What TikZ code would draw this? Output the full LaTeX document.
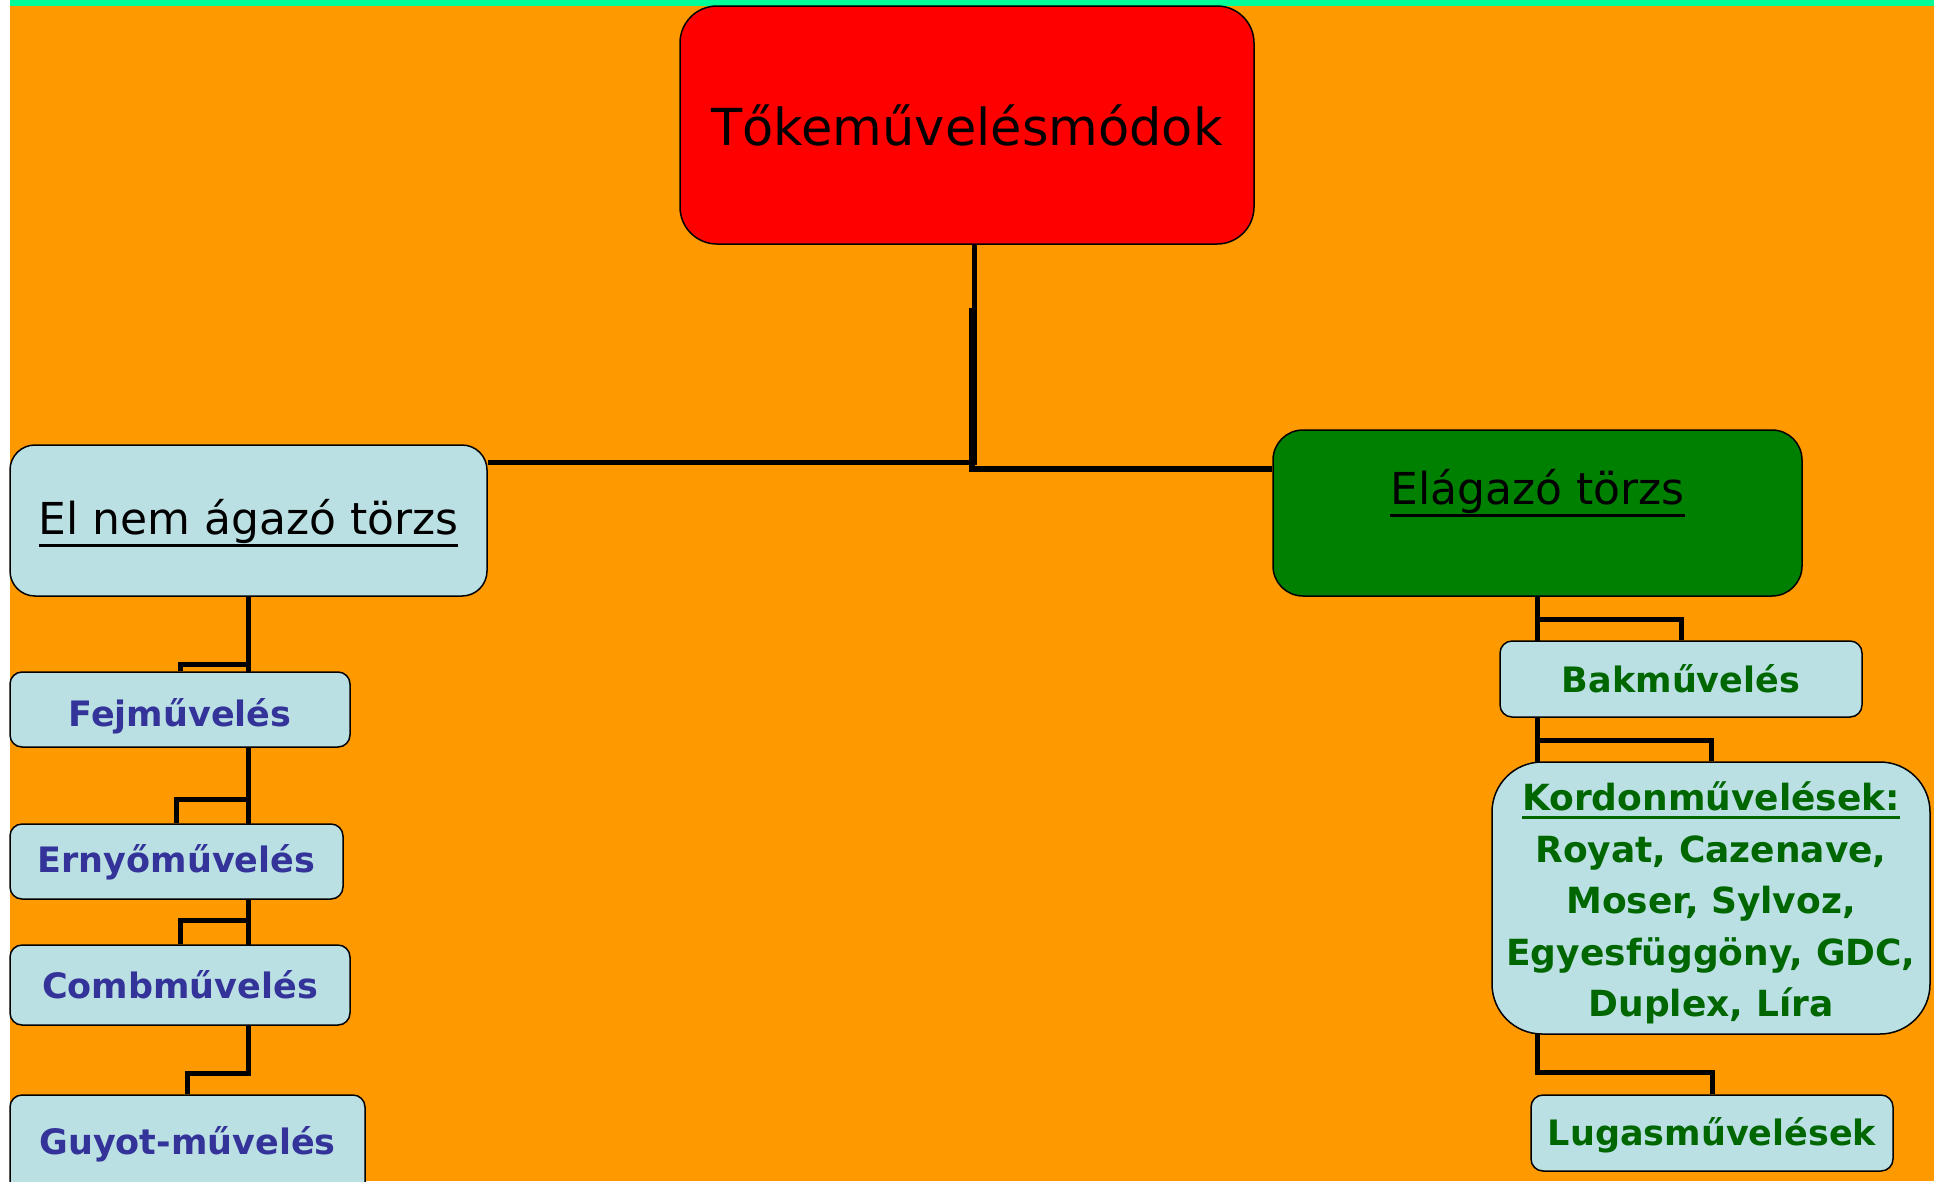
\documentclass[tikz,border=0pt]{standalone}
\usepackage{fontspec}
\setmainfont{DejaVu Sans}
\newcommand\myul[2]{\setbox0\hbox{#2}\rlap{\rule[-#1]{\wd0}{3pt}}\box0}
\definecolor{bgorange}{RGB}{255,153,0}
\definecolor{topgreen}{RGB}{0,255,153}
\definecolor{rootred}{RGB}{255,0,0}
\definecolor{boxgreen}{RGB}{0,128,0}
\definecolor{lightbox}{RGB}{187,224,227}
\definecolor{txtblue}{RGB}{51,51,153}
\definecolor{txtgreen}{RGB}{0,102,0}
\pgfdeclarelayer{back}
\pgfdeclarelayer{lines}
\pgfsetlayers{back,lines,main}
\begin{document}
\begin{tikzpicture}[x=1pt,y=-1pt,
  box/.style={draw=black,line width=1.5pt,rectangle,inner sep=0pt,align=center},
  leafl/.style={box,fill=lightbox,rounded corners=12pt,text=txtblue,font=\fontsize{35}{42}\selectfont\bfseries},
  leafr/.style={box,fill=lightbox,rounded corners=12pt,text=txtgreen,font=\fontsize{35}{42}\selectfont\bfseries},
  conn/.style={draw=black,line width=5pt}]
\useasboundingbox (0,0) rectangle (1934,1181);
\begin{pgfonlayer}{back}
\fill[white] (0,0) rectangle (1934,1181);
\fill[bgorange] (10,0) rectangle (1934,1181);
\fill[topgreen] (10,0) rectangle (1934,6);
\end{pgfonlayer}

\node[box,fill=rootred,rounded corners=37pt,minimum width=574pt,minimum height=238pt,
  font=\fontsize{51}{60}\selectfont] (root) at (967,125) {Tőkeművelésmódok};

\node[box,fill=lightbox,rounded corners=25pt,minimum width=477pt,minimum height=151pt] (elnem) at (248.5,520.5) {};
\node[inner sep=0pt,font=\fontsize{44}{52}\selectfont] (elnemt) at (248.5,523) {\myul{12pt}{El nem ágazó törzs}};

\node[box,fill=boxgreen,rounded corners=30pt,minimum width=529pt,minimum height=166pt] (ela) at (1537.5,513) {};
\node[inner sep=0pt,font=\fontsize{44}{52}\selectfont] (elat) at (1537.5,493) {\myul{12pt}{Elágazó törzs}};

\node[leafl,minimum width=340pt,minimum height=75pt] (fej) at (180,709.5) {};
\node[inner sep=0pt,text=txtblue,font=\fontsize{35}{42}\selectfont\bfseries] (fejt) at (180,716) {Fejművelés};
\node[leafl,minimum width=333pt,minimum height=75pt] (erny) at (176.5,861.5) {};
\node[inner sep=0pt,text=txtblue,font=\fontsize{35}{42}\selectfont\bfseries] (rnyt) at (176.5,862) {Ernyőművelés};
\node[leafl,minimum width=340pt,minimum height=80pt] (comb) at (180,985) {Combművelés};
\node[leafl,minimum width=355pt,minimum height=100pt] (guyot) at (187.5,1145) {};
\node[inner sep=0pt,text=txtblue,font=\fontsize{35}{42}\selectfont\bfseries] (guyott) at (187.5,1144) {Guyot-művelés};

\node[leafr,minimum width=362pt,minimum height=76pt] (bak) at (1681,679) {Bakművelés};
\node[leafr,rounded corners=50pt,minimum width=438pt,minimum height=272pt] (kordon) at (1711,898) {};
\node[inner sep=0pt,align=center,text=txtgreen,font=\fontsize{36}{51.6}\selectfont\bfseries] (kordont) at (1711,903)
  {\myul{9pt}{Kordonművelések:}\\Royat, Cazenave,\\Moser, Sylvoz,\\Egyesfüggöny, GDC,\\Duplex, Líra};
\node[leafr,minimum width=362pt,minimum height=76pt] (luga) at (1712,1133) {};
\node[inner sep=0pt,text=txtgreen,font=\fontsize{35}{42}\selectfont\bfseries] (lugat) at (1712,1135) {Lugasművelések};

\coordinate (rs) at ([xshift=7pt]root.south);
\coordinate (rt) at (972,308);
\begin{pgfonlayer}{lines}
\draw[conn] (rs) -- (rs |- 0,462) -- (elnem.east |- 0,462);
\draw[conn,line width=6pt] (rt) -- (rt |- 0,469) -- (ela.west |- 0,469);

\draw[conn] (elnem.south) -- (elnem.south |- 0,664) -| (fej.north);
\draw[conn] (elnem.south) -- (elnem.south |- 0,799) -| (erny.north);
\draw[conn] (elnem.south) -- (elnem.south |- 0,920) -| (comb.north);
\draw[conn] (elnem.south) -- (elnem.south |- 0,1073) -| (guyot.north);

\draw[conn] (ela.south) -- (ela.south |- 0,619) -| (bak.north);
\draw[conn] (ela.south) -- (ela.south |- 0,740) -| (kordon.north);
\draw[conn] (ela.south) -- (ela.south |- 0,1072) -| (luga.north);
\end{pgfonlayer}
\end{tikzpicture}
\end{document}
